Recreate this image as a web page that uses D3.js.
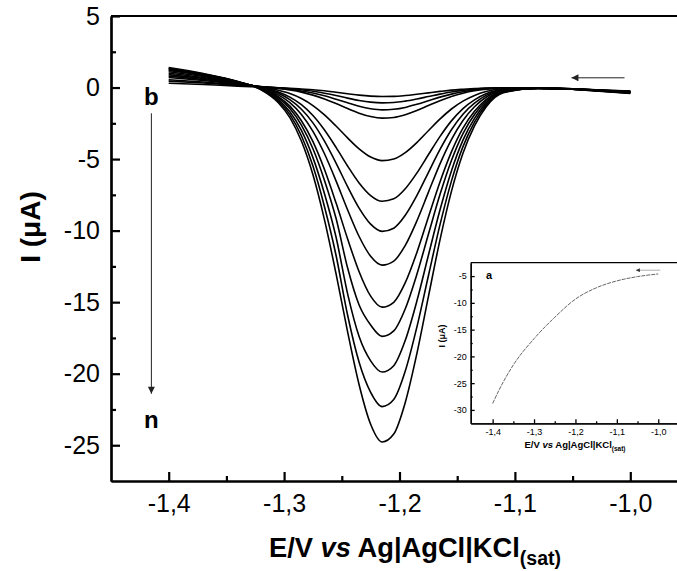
<!DOCTYPE html>
<html>
<head>
<meta charset="utf-8">
<script src="https://cdn.jsdelivr.net/npm/d3@7"></script>
<style>
  body { margin: 0; background: #fff; }
  svg { display: block; font-family: Arial, "Liberation Sans", sans-serif; }
</style>
</head>
<body>
<div id="chart"></div>
<script>
// potentials (V) shared by all voltammograms
var potentials = [-1.40, -1.37, -1.34, -1.32, -1.305, -1.295, -1.285, -1.275, -1.265, -1.255,
  -1.245, -1.235, -1.225, -1.215, -1.205, -1.195, -1.185, -1.175, -1.165, -1.155,
  -1.145, -1.135, -1.125, -1.11, -1.08, -1.05, -1.03, -1.00];

// currents (uA), curves b .. n
var curveB = [0.30, 0.21, 0.10, 0.04, -0.01, -0.05, -0.10, -0.15, -0.23, -0.33, -0.43, -0.53, -0.60, -0.63, -0.62, -0.56, -0.47, -0.37, -0.27, -0.18, -0.12, -0.07, -0.03, -0.01, -0.05, -0.10, -0.18, -0.25];
var curveC = [0.45, 0.32, 0.15, 0.05, -0.02, -0.08, -0.16, -0.26, -0.40, -0.56, -0.74, -0.90, -1.02, -1.07, -1.05, -0.95, -0.80, -0.63, -0.46, -0.31, -0.20, -0.12, -0.06, -0.02, -0.04, -0.09, -0.20, -0.30];
var curveD = [0.55, 0.39, 0.19, 0.06, -0.04, -0.12, -0.24, -0.38, -0.58, -0.82, -1.07, -1.31, -1.48, -1.56, -1.52, -1.39, -1.17, -0.92, -0.67, -0.46, -0.29, -0.17, -0.09, -0.02, -0.06, -0.11, -0.22, -0.35];
var curveE = [0.70, 0.49, 0.24, 0.07, -0.06, -0.17, -0.32, -0.53, -0.80, -1.12, -1.47, -1.79, -2.03, -2.14, -2.09, -1.90, -1.61, -1.26, -0.92, -0.63, -0.40, -0.23, -0.12, -0.03, -0.05, -0.08, -0.17, -0.30];
var curveF = [0.80, 0.56, 0.27, 0.04, -0.19, -0.42, -0.77, -1.26, -1.91, -2.69, -3.52, -4.29, -4.86, -5.11, -5.00, -4.55, -3.85, -3.02, -2.21, -1.50, -0.95, -0.55, -0.28, -0.08, -0.04, -0.10, -0.22, -0.40];
var curveG = [0.90, 0.63, 0.29, 0.02, -0.31, -0.67, -1.20, -1.96, -2.97, -4.18, -5.48, -6.67, -7.55, -7.95, -7.78, -7.07, -5.98, -4.70, -3.43, -2.33, -1.47, -0.86, -0.44, -0.12, -0.05, -0.09, -0.18, -0.30];
var curveH = [1.00, 0.70, 0.32, 0.00, -0.40, -0.85, -1.52, -2.47, -3.75, -5.28, -6.92, -8.43, -9.55, -10.05, -9.83, -8.93, -7.56, -5.94, -4.34, -2.95, -1.86, -1.09, -0.55, -0.15, -0.06, -0.11, -0.21, -0.35];
var curveI = [1.10, 0.77, 0.35, -0.02, -0.51, -1.05, -1.88, -3.06, -4.63, -6.52, -8.54, -10.41, -11.79, -12.41, -12.13, -11.03, -9.33, -7.33, -5.35, -3.64, -2.30, -1.34, -0.68, -0.19, -0.04, -0.08, -0.17, -0.28];
var curveJ = [1.20, 0.84, 0.37, -0.05, -0.64, -1.30, -2.32, -3.78, -5.73, -8.06, -10.57, -12.87, -14.58, -15.35, -15.01, -13.64, -11.54, -9.06, -6.62, -4.50, -2.84, -1.66, -0.84, -0.23, -0.06, -0.12, -0.24, -0.42];
var curveK = [1.25, 0.88, 0.39, -0.07, -0.73, -1.47, -2.63, -4.28, -6.49, -9.14, -12.60, -15.20, -16.60, -17.39, -17.01, -15.46, -13.07, -10.27, -7.50, -5.10, -3.22, -1.88, -0.96, -0.26, -0.05, -0.10, -0.19, -0.30];
var curveL = [1.30, 0.91, 0.40, -0.10, -0.84, -1.69, -3.00, -4.90, -7.42, -10.45, -14.40, -17.40, -19.10, -19.88, -19.44, -17.67, -14.94, -11.74, -8.58, -5.83, -3.68, -2.15, -1.09, -0.30, -0.06, -0.11, -0.22, -0.38];
var curveM = [1.35, 0.95, 0.41, -0.13, -0.95, -1.89, -3.37, -5.49, -8.33, -11.72, -15.90, -19.20, -21.30, -22.30, -21.81, -19.82, -16.76, -13.17, -9.62, -6.54, -4.13, -2.41, -1.23, -0.33, -0.04, -0.08, -0.16, -0.25];
var curveN = [1.40, 0.98, 0.42, -0.16, -1.06, -2.10, -3.74, -6.10, -9.25, -13.01, -17.06, -20.77, -23.53, -24.77, -24.22, -22.01, -18.62, -14.63, -10.68, -7.26, -4.59, -2.68, -1.36, -0.37, -0.05, -0.10, -0.20, -0.33];
var series = [curveB, curveC, curveD, curveE, curveF, curveG, curveH, curveI, curveJ, curveK, curveL, curveM, curveN];

// tick values, main plot
var xTicks = [-1.4, -1.3, -1.2, -1.1, -1.0];
var xMinor = [-1.35, -1.25, -1.15, -1.05];
var yTicks = [5, 0, -5, -10, -15, -20, -25];
var yMinor = [2.5, -2.5, -7.5, -12.5, -17.5, -22.5];

// inset (a): peak current vs potential
var insetE = [-1.40, -1.38, -1.35, -1.30, -1.25, -1.20, -1.15, -1.10, -1.05, -1.00];
var insetI = [-28.8, -25.6, -21.6, -16.7, -12.7, -9.3, -7.2, -5.9, -5.1, -4.6];
var insetYTicks = [-5, -10, -15, -20, -25, -30];
var insetYMinor = [-7.5, -12.5, -17.5, -22.5, -27.5];

var W = 677, H = 571;
var svg = d3.select("#chart").append("svg").attr("width", W).attr("height", H);

var defs = svg.append("defs");
defs.append("marker")
  .attr("id", "head")
  .attr("viewBox", "0 0 10 10")
  .attr("refX", 10).attr("refY", 5)
  .attr("markerWidth", 9).attr("markerHeight", 7)
  .attr("markerUnits", "userSpaceOnUse")
  .attr("orient", "auto")
  .append("path").attr("d", "M0,0L10,5L0,10Z").attr("fill", "#222");
defs.append("marker")
  .attr("id", "headSmall")
  .attr("viewBox", "0 0 10 10")
  .attr("refX", 10).attr("refY", 5)
  .attr("markerWidth", 6).attr("markerHeight", 4)
  .attr("markerUnits", "userSpaceOnUse")
  .attr("orient", "auto")
  .append("path").attr("d", "M0,0L10,5L0,10Z").attr("fill", "#333");

var commaFmt = function (d) { return d.toFixed(1).replace(".", ","); };

// main scales
var x = d3.scaleLinear().domain([-1.45, -0.95]).range([111, 688]);
var y = d3.scaleLinear().domain([-27.5, 5]).range([481, 16]);

var line = d3.line()
  .x(function (d, i) { return x(potentials[i]); })
  .y(function (d) { return y(d); })
  .curve(d3.curveMonotoneX);

svg.append("g")
  .selectAll("path")
  .data(series)
  .enter()
  .append("path")
  .attr("d", line)
  .attr("fill", "none")
  .attr("stroke", "#000")
  .attr("stroke-width", 1.6);

// axes
function styleAxis(g, w, size) {
  g.selectAll(".domain").attr("stroke", "#000").attr("stroke-width", w);
  g.selectAll(".tick line").attr("stroke", "#000").attr("stroke-width", w);
  g.selectAll("text").attr("fill", "#000").attr("font-size", size);
}

var gx = svg.append("g").attr("transform", "translate(0," + y.range()[0] + ")")
  .call(d3.axisBottom(x).tickValues(xTicks).tickSize(-9).tickSizeOuter(0).tickPadding(13).tickFormat(commaFmt));
styleAxis(gx, 2.2, 25);
var gxm = svg.append("g").attr("transform", "translate(0," + y.range()[0] + ")")
  .call(d3.axisBottom(x).tickValues(xMinor).tickSize(-5).tickSizeOuter(0).tickFormat(""));
styleAxis(gxm, 2.2, 25);

var gy = svg.append("g").attr("transform", "translate(" + x.range()[0] + ",0)")
  .call(d3.axisLeft(y).tickValues(yTicks).tickSize(-9).tickSizeOuter(0).tickPadding(11).tickFormat(String));
styleAxis(gy, 2.2, 25);
var gym = svg.append("g").attr("transform", "translate(" + x.range()[0] + ",0)")
  .call(d3.axisLeft(y).tickValues(yMinor).tickSize(-5).tickSizeOuter(0).tickFormat(""));
styleAxis(gym, 2.2, 25);

// top and right spines
svg.append("line")
  .attr("x1", x.range()[0]).attr("x2", x.range()[1])
  .attr("y1", y.range()[1]).attr("y2", y.range()[1])
  .attr("stroke", "#000").attr("stroke-width", 2.2);
svg.append("line")
  .attr("x1", x.range()[1]).attr("x2", x.range()[1])
  .attr("y1", y.range()[0]).attr("y2", y.range()[1])
  .attr("stroke", "#000").attr("stroke-width", 2.2);

// axis titles
var xt = svg.append("text")
  .attr("x", 415).attr("y", 557)
  .attr("text-anchor", "middle")
  .attr("font-size", 27.3).attr("font-weight", "bold");
xt.append("tspan").text("E/V ");
xt.append("tspan").attr("font-style", "italic").text("vs");
xt.append("tspan").text(" Ag|AgCl|KCl");
xt.append("tspan").attr("font-size", 19.5).attr("dy", 8).text("(sat)");

svg.append("text")
  .attr("transform", "translate(40,227) rotate(-90)")
  .attr("text-anchor", "middle")
  .attr("font-size", 28).attr("font-weight", "bold")
  .text("I (\u03bcA)");

// b -> n arrow and scan direction arrow
svg.append("text").attr("x", x(-1.415)).attr("y", 105)
  .attr("text-anchor", "middle").attr("font-size", 24).attr("font-weight", "bold").text("b");
svg.append("text").attr("x", x(-1.415)).attr("y", 428)
  .attr("text-anchor", "middle").attr("font-size", 24).attr("font-weight", "bold").text("n");
svg.append("line")
  .attr("x1", x(-1.415)).attr("x2", x(-1.415))
  .attr("y1", y(-1.8)).attr("y2", y(-21.4))
  .attr("stroke", "#222").attr("stroke-width", 1)
  .attr("marker-end", "url(#head)");
svg.append("line")
  .attr("x1", x(-1.005)).attr("x2", x(-1.051))
  .attr("y1", y(0.68)).attr("y2", y(0.68))
  .attr("stroke", "#222").attr("stroke-width", 1)
  .attr("marker-end", "url(#head)");

// inset
var ix = d3.scaleLinear().domain([-1.453, -0.953]).range([470.7, 677.7]);
var iy = d3.scaleLinear().domain([-32.5, -2.5]).range([423.3, 262.7]);
var inset = svg.append("g");

inset.append("rect")
  .attr("x", ix.range()[0]).attr("y", iy.range()[1])
  .attr("width", ix.range()[1] - ix.range()[0])
  .attr("height", iy.range()[0] - iy.range()[1])
  .attr("fill", "#fff");

inset.append("path")
  .datum(insetI)
  .attr("d", d3.line()
    .x(function (d, i) { return ix(insetE[i]); })
    .y(function (d) { return iy(d); })
    .curve(d3.curveMonotoneX))
  .attr("fill", "none")
  .attr("stroke", "#555")
  .attr("stroke-width", 0.9)
  .attr("stroke-dasharray", "4,1");

var igx = inset.append("g").attr("transform", "translate(0," + iy.range()[0] + ")")
  .call(d3.axisBottom(ix).tickValues(xTicks).tickSize(-4).tickSizeOuter(0).tickPadding(5).tickFormat(commaFmt));
styleAxis(igx, 1.3, 9);
var igxm = inset.append("g").attr("transform", "translate(0," + iy.range()[0] + ")")
  .call(d3.axisBottom(ix).tickValues(xMinor).tickSize(-2).tickSizeOuter(0).tickFormat(""));
styleAxis(igxm, 1.3, 9);
var igy = inset.append("g").attr("transform", "translate(" + ix.range()[0] + ",0)")
  .call(d3.axisLeft(iy).tickValues(insetYTicks).tickSize(-4).tickSizeOuter(0).tickPadding(4).tickFormat(String));
styleAxis(igy, 1.3, 9);
var igym = inset.append("g").attr("transform", "translate(" + ix.range()[0] + ",0)")
  .call(d3.axisLeft(iy).tickValues(insetYMinor).tickSize(-2).tickSizeOuter(0).tickFormat(""));
styleAxis(igym, 1.3, 9);

inset.append("line")
  .attr("x1", ix.range()[0]).attr("x2", ix.range()[1])
  .attr("y1", iy.range()[1]).attr("y2", iy.range()[1])
  .attr("stroke", "#000").attr("stroke-width", 1.3);

var ixt = inset.append("text")
  .attr("x", 575).attr("y", 448)
  .attr("text-anchor", "middle")
  .attr("font-size", 9.5).attr("font-weight", "bold");
ixt.append("tspan").text("E/V ");
ixt.append("tspan").attr("font-style", "italic").text("vs");
ixt.append("tspan").text(" Ag|AgCl|KCl");
ixt.append("tspan").attr("font-size", 6.5).attr("dy", 2.5).text("(sat)");

inset.append("text")
  .attr("transform", "translate(445,336) rotate(-90)")
  .attr("text-anchor", "middle")
  .attr("font-size", 9).attr("font-weight", "bold")
  .text("I (\u03bcA)");

inset.append("text").attr("x", 489).attr("y", 279)
  .attr("text-anchor", "middle").attr("font-size", 11).attr("font-weight", "bold").text("a");

inset.append("line")
  .attr("x1", ix(-0.995)).attr("x2", ix(-1.054))
  .attr("y1", iy(-3.9)).attr("y2", iy(-3.9))
  .attr("stroke", "#999").attr("stroke-width", 0.8)
  .attr("marker-end", "url(#headSmall)");
</script>
</body>
</html>
